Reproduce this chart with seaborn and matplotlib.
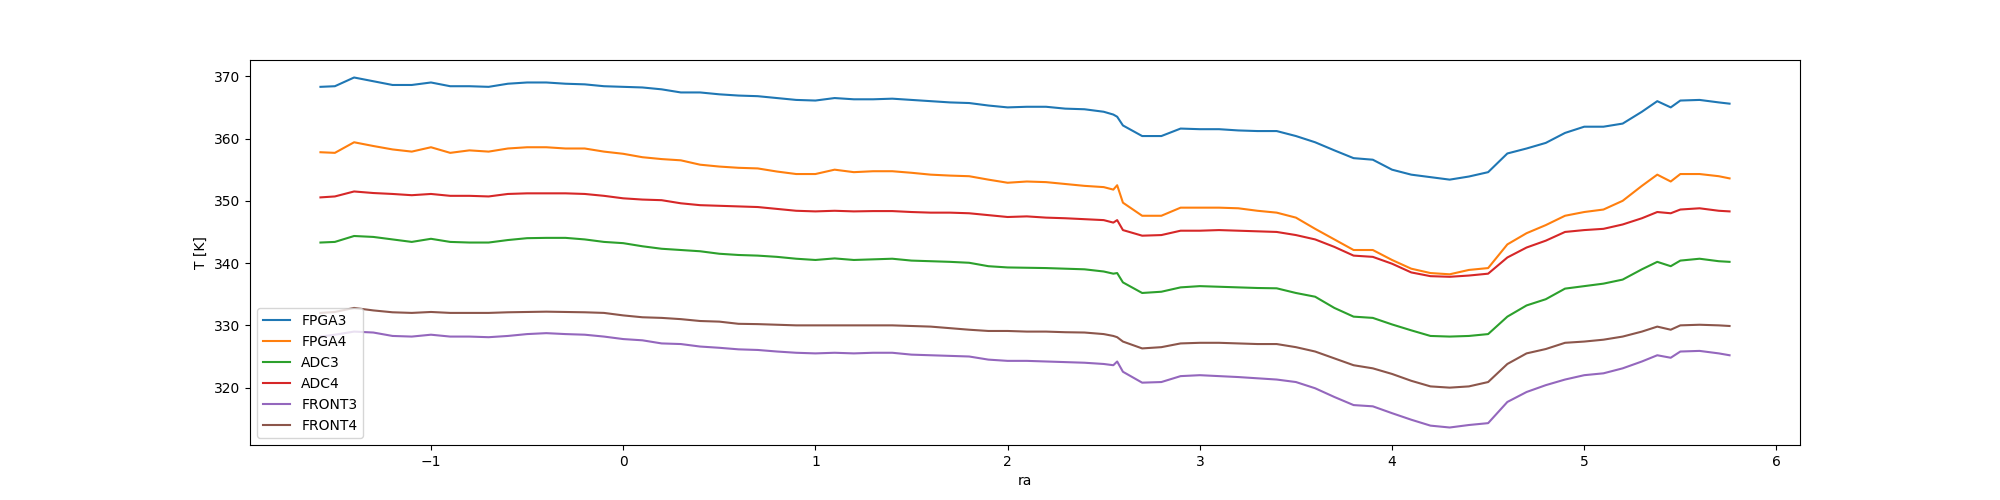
import seaborn as sns
import matplotlib.pyplot as plt

# ra positions
ra = [-1.575, -1.5, -1.4, -1.3, -1.2, -1.1, -1.0, -0.9, -0.8, -0.7, -0.6, -0.5, -0.4, -0.3, -0.2, -0.1, 0.0,
      0.1, 0.2, 0.3, 0.4, 0.5, 0.6, 0.7, 0.8, 0.9, 1.0, 1.1, 1.2, 1.3, 1.4, 1.5, 1.6, 1.7, 1.8, 1.9, 2.0,
      2.1, 2.2, 2.3, 2.4, 2.5, 2.55, 2.57, 2.6, 2.7, 2.8, 2.9, 3.0, 3.1, 3.2, 3.3, 3.4, 3.5, 3.6, 3.7, 3.8, 3.9, 4.0,
      4.1, 4.2, 4.3, 4.4, 4.5, 4.6, 4.7, 4.8, 4.9, 5.0, 5.1, 5.2, 5.3, 5.38, 5.45, 5.5, 5.6, 5.7, 5.756]

fpga3 = [368.3, 368.4, 369.8, 369.2, 368.6, 368.6, 369.0, 368.4, 368.4, 368.3, 368.8, 369.0, 369.0, 368.8, 368.7, 368.4, 368.3,
         368.2, 367.9, 367.4, 367.4, 367.1, 366.9, 366.8, 366.5, 366.2, 366.1, 366.5, 366.3, 366.3, 366.4, 366.2, 366.0, 365.8, 365.7, 365.3, 365.0,
         365.1, 365.1, 364.8, 364.7, 364.3, 363.85, 363.5, 362.1, 360.4, 360.4, 361.6, 361.5, 361.5, 361.3, 361.2, 361.2, 360.4, 359.4, 358.1, 356.85, 356.6, 355.0,
         354.2, 353.8, 353.4, 353.9, 354.6, 357.6, 358.4, 359.3, 360.9, 361.9, 361.9, 362.4, 364.3, 366.0, 365.0, 366.1, 366.2, 365.8, 365.6]

fpga4 = [357.8, 357.7, 359.4, 358.8, 358.25, 357.9, 358.6, 357.7, 358.1, 357.9, 358.4, 358.6, 358.6, 358.4, 358.4, 357.9, 357.55,
         357.0, 356.7, 356.5, 355.8, 355.5, 355.3, 355.2, 354.7, 354.3, 354.3, 355.0, 354.6, 354.75, 354.75, 354.5, 354.2, 354.05, 353.95, 353.4, 352.9,
         353.1, 353.0, 352.7, 352.4, 352.2, 351.8, 352.5, 349.7, 347.6, 347.6, 348.9, 348.9, 348.9, 348.8, 348.4, 348.1, 347.3, 345.5, 343.8, 342.1, 342.1, 340.5,
         339.1, 338.4, 338.2, 338.9, 339.2, 343.0, 344.8, 346.1, 347.6, 348.2, 348.6, 350.0, 352.4, 354.2, 353.1, 354.3, 354.3, 353.95, 353.6]

adc3 = [343.3, 343.4, 344.35, 344.2, 343.8, 343.4, 343.9, 343.4, 343.3, 343.3, 343.7, 344.0, 344.05, 344.05, 343.8, 343.4, 343.2,
        342.7, 342.3, 342.1, 341.9, 341.5, 341.3, 341.2, 341.0, 340.7, 340.5, 340.75, 340.5, 340.6, 340.7, 340.4, 340.3, 340.2, 340.05, 339.5, 339.3,
        339.25, 339.2, 339.1, 339.0, 338.65, 338.3, 338.4, 336.9, 335.2, 335.4, 336.1, 336.3, 336.2, 336.1, 336.0, 335.95, 335.2, 334.6, 332.8, 331.4, 331.2, 330.15,
        329.2, 328.3, 328.2, 328.3, 328.6, 331.4, 333.2, 334.2, 335.9, 336.3, 336.7, 337.35, 339.0, 340.2, 339.5, 340.4, 340.7, 340.3, 340.2]

adc4 = [350.55, 350.7, 351.5, 351.25, 351.1, 350.9, 351.1, 350.8, 350.8, 350.7, 351.1, 351.2, 351.2, 351.2, 351.1, 350.8, 350.4,
        350.2, 350.1, 349.6, 349.3, 349.2, 349.1, 349.0, 348.7, 348.4, 348.3, 348.4, 348.3, 348.35, 348.35, 348.2, 348.1, 348.1, 348.0, 347.7, 347.4,
        347.5, 347.3, 347.2, 347.05, 346.9, 346.5, 346.9, 345.3, 344.4, 344.5, 345.2, 345.2, 345.3, 345.2, 345.1, 345.0, 344.5, 343.8, 342.6, 341.2, 341.0, 339.9,
        338.5, 337.9, 337.8, 338.0, 338.3, 340.9, 342.5, 343.6, 345.0, 345.3, 345.5, 346.2, 347.2, 348.2, 348.0, 348.6, 348.8, 348.4, 348.3]

front3 = [328.2, 328.5, 329.0, 328.85, 328.3, 328.2, 328.5, 328.2, 328.2, 328.1, 328.3, 328.6, 328.75, 328.6, 328.5, 328.2, 327.8,
          327.6, 327.1, 327.0, 326.6, 326.4, 326.15, 326.05, 325.8, 325.6, 325.5, 325.6, 325.5, 325.6, 325.6, 325.3, 325.2, 325.1, 325.0, 324.5, 324.3,
          324.3, 324.2, 324.1, 324.0, 323.8, 323.6, 324.2, 322.55, 320.8, 320.9, 321.85, 322.0, 321.85, 321.7, 321.5, 321.3, 320.9, 319.9, 318.5, 317.2, 317.0, 315.9,
          314.85, 313.9, 313.6, 314.0, 314.3, 317.7, 319.3, 320.4, 321.3, 322.0, 322.3, 323.1, 324.2, 325.2, 324.8, 325.8, 325.9, 325.5, 325.2]

front4 = [332.0, 332.15, 332.8, 332.4, 332.1, 332.0, 332.15, 332.0, 332.0, 332.0, 332.1, 332.15, 332.2, 332.15, 332.1, 332.0, 331.6,
          331.3, 331.2, 331.0, 330.7, 330.6, 330.25, 330.2, 330.1, 330.0, 330.0, 330.0, 330.0, 330.0, 330.0, 329.9, 329.8, 329.55, 329.3, 329.1, 329.1,
          329.0, 329.0, 328.9, 328.85, 328.6, 328.3, 328.1, 327.4, 326.3, 326.5, 327.1, 327.2, 327.2, 327.1, 327.0, 327.0, 326.5, 325.8, 324.7, 323.6, 323.1, 322.2,
          321.1, 320.2, 320.0, 320.2, 320.9, 323.8, 325.5, 326.2, 327.2, 327.4, 327.7, 328.2, 329.0, 329.8, 329.3, 330.0, 330.1, 330.0, 329.9]

names = ["FPGA3", "FPGA4", "ADC3", "ADC4", "FRONT3", "FRONT4"]
series = [fpga3, fpga4, adc3, adc4, front3, front4]

fig, ax = plt.subplots(figsize=(20, 5))

# one line per sensor, default colour cycle
for name, vals in zip(names, series):
    sns.lineplot(x=ra, y=vals, label=name, ax=ax, linewidth=1.5)

ax.set_xlabel("ra")
ax.set_ylabel("T [K]")
ax.legend(loc="lower left")

plt.savefig("out.png", dpi=100)
